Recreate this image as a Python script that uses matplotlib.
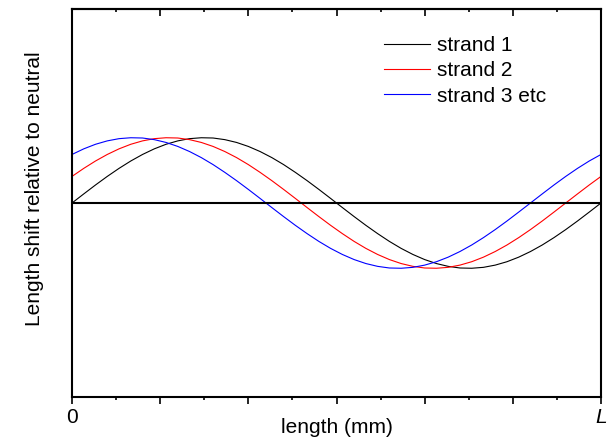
#!/usr/bin/env python3
"""
Strand length shift along the cable -- schematic figure
"""

import numpy as np
import matplotlib
matplotlib.use("Agg")
import matplotlib.pyplot as plt

plt.rcParams["font.family"] = ["Liberation Sans", "DejaVu Sans"]
plt.rcParams["font.size"] = 15

# ── data (shift in units of the peak amplitude) ──
# sample positions along the strand, fraction of L
pos = np.linspace(0.0, 1.0, 46)

strand_1 = [0.000, 0.139, 0.276, 0.407, 0.530, 0.643, 0.743, 0.829, 0.899, 0.951,
            0.985, 0.999, 0.995, 0.970, 0.927, 0.866, 0.788, 0.695, 0.588, 0.469,
            0.342, 0.208, 0.070, -0.070, -0.208, -0.342, -0.469, -0.588, -0.695, -0.788,
            -0.866, -0.927, -0.970, -0.995, -0.999, -0.985, -0.951, -0.899, -0.829, -0.743,
            -0.643, -0.530, -0.407, -0.276, -0.139, 0.000]

strand_2 = [0.407, 0.530, 0.643, 0.743, 0.829, 0.899, 0.951, 0.985, 0.999, 0.995,
            0.970, 0.927, 0.866, 0.788, 0.695, 0.588, 0.469, 0.342, 0.208, 0.070,
            -0.070, -0.208, -0.342, -0.469, -0.588, -0.695, -0.788, -0.866, -0.927, -0.970,
            -0.995, -0.999, -0.985, -0.951, -0.899, -0.829, -0.743, -0.643, -0.530, -0.407,
            -0.276, -0.139, 0.000, 0.139, 0.276, 0.407]

strand_3 = [0.743, 0.829, 0.899, 0.951, 0.985, 0.999, 0.995, 0.970, 0.927, 0.866,
            0.788, 0.695, 0.588, 0.469, 0.342, 0.208, 0.070, -0.070, -0.208, -0.342,
            -0.469, -0.588, -0.695, -0.788, -0.866, -0.927, -0.970, -0.995, -0.999, -0.985,
            -0.951, -0.899, -0.829, -0.743, -0.643, -0.530, -0.407, -0.276, -0.139, 0.000,
            0.139, 0.276, 0.407, 0.530, 0.643, 0.743]

labels = ["strand 1", "strand 2", "strand 3 etc"]
colors = ["black", "red", "blue"]

major_ticks = [0, 1 / 6, 2 / 6, 3 / 6, 4 / 6, 5 / 6, 1]
minor_ticks = [1 / 12, 3 / 12, 5 / 12, 7 / 12, 9 / 12, 11 / 12]
tick_labels = ["0", "", "", "", "", "", "L"]

# ── figure ───────────────────────────────────────────────
fig = plt.figure(figsize=(6.10, 4.37), dpi=100)
ax = fig.add_axes([72 / 610, 1 - 397 / 437, 529 / 610, 388 / 437])

for ys, lab, c in zip([strand_1, strand_2, strand_3], labels, colors):
    ax.plot(pos, ys, color=c, linewidth=0.8, label=lab)

ax.axhline(0, color="black", linewidth=1.5)

ax.set_xlim(0, 1)
ax.set_ylim(-2.97, 2.97)

for sp in ax.spines.values():
    sp.set_linewidth(1.5)

# bottom ticks point out, top ticks point in
ax.set_xticks(major_ticks)
ax.set_xticks(minor_ticks, minor=True)
ax.set_xticklabels(tick_labels)
ax.get_xticklabels()[-1].set_fontstyle("italic")
ax.tick_params(axis="x", which="major", direction="out", length=5, width=1.2, pad=3)
ax.tick_params(axis="x", which="minor", direction="out", length=2.5, width=1.2)
ax.set_yticks([])

top = ax.secondary_xaxis("top")
top.set_xticks(major_ticks)
top.set_xticks(minor_ticks, minor=True)
top.tick_params(axis="x", which="major", direction="in", length=5, width=1.2, labeltop=False)
top.tick_params(axis="x", which="minor", direction="in", length=2.5, width=1.2)
top.spines["top"].set_linewidth(1.5)

ax.set_xlabel("length (mm)")
ax.xaxis.set_label_coords(0.5, -0.055)
ax.set_ylabel("Length shift relative to neutral")
ax.yaxis.set_label_coords(-0.0525, 0.537)

ax.legend(loc="upper left", bbox_to_anchor=(384 / 610, 1 - 36 / 437),
          bbox_transform=fig.transFigure, frameon=False, borderpad=0,
          borderaxespad=0, handlelength=2.2, handletextpad=0.35,
          labelspacing=0.3, fontsize=15)

fig.savefig("out.png", dpi=100)
